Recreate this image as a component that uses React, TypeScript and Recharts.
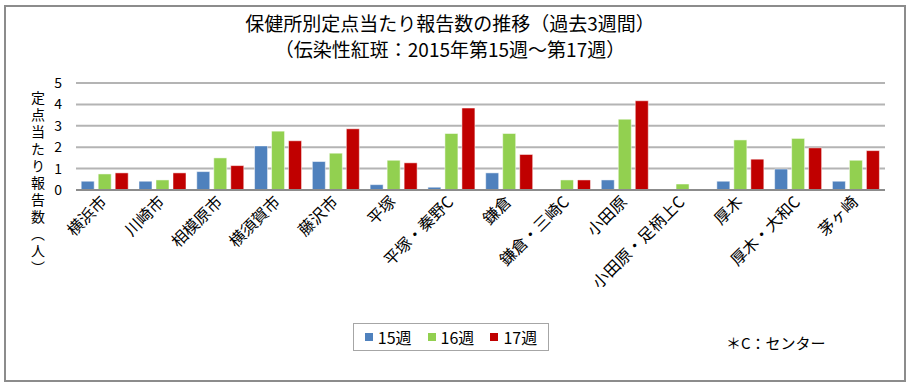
import React from "react";
import { BarChart, Bar, XAxis, YAxis, CartesianGrid, Legend } from "recharts";

const categories = [
  "横浜市",
  "川崎市",
  "相模原市",
  "横須賀市",
  "藤沢市",
  "平塚",
  "平塚・秦野C",
  "鎌倉",
  "鎌倉・三崎C",
  "小田原",
  "小田原・足柄上C",
  "厚木",
  "厚木・大和C",
  "茅ヶ崎",
];

const week15 = [0.41, 0.41, 0.86, 2.06, 1.33, 0.25, 0.13, 0.8, 0, 0.47, 0, 0.41, 0.98, 0.41];
const week16 = [0.75, 0.47, 1.5, 2.75, 1.72, 1.39, 2.64, 2.64, 0.47, 3.31, 0.28, 2.34, 2.41, 1.39];
const week17 = [0.8, 0.8, 1.14, 2.3, 2.86, 1.27, 3.83, 1.66, 0.47, 4.17, 0, 1.44, 1.97, 1.84];

const yTicks = [0, 1, 2, 3, 4, 5];

const FONT = '"Noto Sans CJK JP", "Noto Sans", sans-serif';

const chartData = categories.map((name, i) => ({
  name,
  "15週": week15[i],
  "16週": week16[i],
  "17週": week17[i],
}));

// rotated category labels, text ends at the tick
const CategoryTick = (props: any) => {
  const { x, y, payload } = props;
  return (
    <text
      x={x + 3}
      y={y}
      transform={`rotate(-45 ${x + 3} ${y})`}
      textAnchor="end"
      fontSize={16}
      fontFamily={FONT}
      fill="#000"
    >
      {payload.value}
    </text>
  );
};

const LegendBox = (props: any) => {
  const { payload } = props;
  return (
    <div
      style={{
        display: "flex",
        justifyContent: "center",
        alignItems: "center",
        gap: 16,
        height: "100%",
        fontFamily: FONT,
        fontSize: 16,
        color: "#000",
      }}
    >
      {payload.map((item: any) => (
        <span key={item.value} style={{ display: "flex", alignItems: "center" }}>
          <span
            style={{
              display: "inline-block",
              width: 8,
              height: 8,
              background: item.color,
              marginRight: 5,
            }}
          />
          {item.value}
        </span>
      ))}
    </div>
  );
};

export default function App() {
  return (
    <div
      style={{
        position: "absolute",
        left: 0,
        top: 0,
        width: 909,
        height: 384,
        background: "#fff",
        fontFamily: FONT,
      }}
    >
      {/* outer frame */}
      <div
        style={{
          position: "absolute",
          left: 4,
          top: 5,
          width: 898,
          height: 373,
          border: "2px solid #8c8c8c",
        }}
      />

      {/* title */}
      <div
        style={{
          position: "absolute",
          left: 0,
          width: 900,
          top: 10,
          textAlign: "center",
          fontSize: 19,
          lineHeight: "26px",
          color: "#000",
        }}
      >
        <div>保健所別定点当たり報告数の推移（過去3週間）</div>
        <div>（伝染性紅斑：2015年第15週～第17週）</div>
      </div>

      {/* y axis title */}
      <div
        style={{
          position: "absolute",
          left: 30,
          top: 91,
          width: 16,
          writingMode: "vertical-rl",
          fontSize: 14,
          letterSpacing: 3,
          lineHeight: "16px",
          color: "#000",
        }}
      >
        定点当たり報告数（人）
      </div>

      <div style={{ position: "absolute", left: 0, top: 0 }}>
        <BarChart
          width={909}
          height={384}
          data={chartData}
          margin={{ top: 83, right: 24, left: 0, bottom: 0 }}
          barCategoryGap="9%"
          barGap={4}
        >
          <CartesianGrid vertical={false} stroke="#b4b4b4" strokeWidth={2} />
          <XAxis
            dataKey="name"
            height={194}
            interval={0}
            axisLine={{ stroke: "#8c8c8c", strokeWidth: 2 }}
            tickLine={false}
            tickSize={0}
            tickMargin={13}
            tick={<CategoryTick />}
          />
          <YAxis
            width={76}
            domain={[0, 5]}
            ticks={yTicks}
            interval={0}
            axisLine={false}
            tickLine={false}
            tickSize={0}
            tickMargin={14}
            tick={{ fontSize: 14, fill: "#000", fontFamily: FONT }}
          />
          <Legend
            layout="horizontal"
            align="center"
            verticalAlign="middle"
            content={<LegendBox />}
            wrapperStyle={{
              position: "absolute",
              left: 353,
              top: 323,
              width: 196,
              height: 28,
              border: "1.5px solid #a6a6a6",
              boxSizing: "border-box",
              background: "#fff",
            }}
          />
          <Bar dataKey="15週" fill="#4f81bd" stroke="#ffffff" strokeOpacity={0.5} isAnimationActive={false} />
          <Bar dataKey="16週" fill="#92d050" stroke="#ffffff" strokeOpacity={0.5} isAnimationActive={false} />
          <Bar dataKey="17週" fill="#c00000" stroke="#ffffff" strokeOpacity={0.5} isAnimationActive={false} />
        </BarChart>
      </div>

      {/* footnote */}
      <div
        style={{
          position: "absolute",
          left: 726,
          top: 332,
          fontSize: 15,
          color: "#000",
        }}
      >
        ＊C：センター
      </div>
    </div>
  );
}
